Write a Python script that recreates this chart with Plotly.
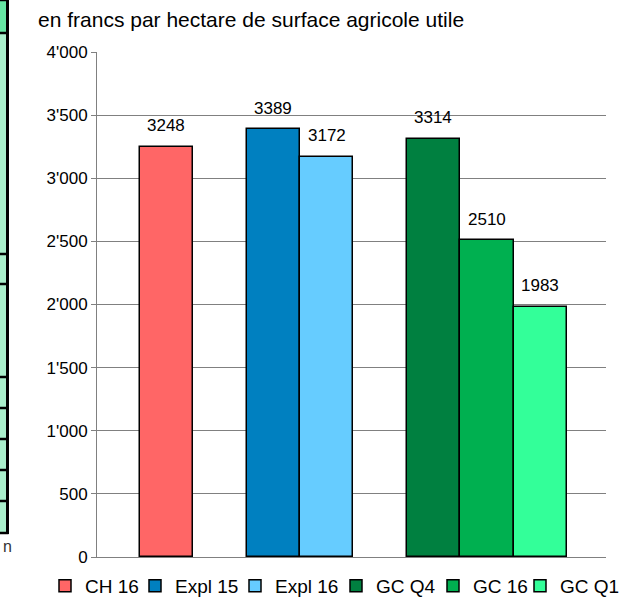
import plotly.graph_objects as go

# ---- data -------------------------------------------------------------
series = ["CH 16", "Expl 15", "Expl 16", "GC Q4", "GC 16", "GC Q1"]
values = [3248, 3389, 3172, 3314, 2510, 1983]
group_of = [0, 1, 1, 2, 2, 2]          # which cluster each series belongs to
colors = ["#FF6666", "#0080C0", "#66CCFF", "#008040", "#00B050", "#33FF99"]
y_ticks = [0, 500, 1000, 1500, 2000, 2500, 3000, 3500, 4000]
title_text = "en francs par hectare de surface agricole utile"

# ---- layout constants -------------------------------------------------
W, H = 622, 599
M_L, M_R, M_T, M_B = 97, 16, 52, 42
PLOT_W = W - M_L - M_R
PLOT_H = H - M_T - M_B
FONT = "Arial, Liberation Sans, sans-serif"
# text width reserved for each legend entry (None = natural width)
LEGEND_ENTRY_PX = [45, 55, 56, 52, 42, None]


def px_x(px):
    """pixel column -> paper x"""
    return (px - M_L) / PLOT_W


def px_y(py):
    """pixel row -> paper y"""
    return (H - M_B - py) / PLOT_H


# slot index for each bar: bars of one cluster touch, one empty slot between clusters
positions = []
slot, prev = 0, None
for g in group_of:
    if prev is not None:
        slot += 1 if g == prev else 2
    positions.append(slot)
    prev = g

fig = go.Figure()
for name, val, pos, col, lw in zip(series, values, positions, colors, LEGEND_ENTRY_PX):
    fig.add_trace(go.Bar(
        x=[pos], y=[val], name=name, width=1,
        marker=dict(color=col, line=dict(color="black", width=1.5)),
        hoverinfo="name+y", legendwidth=lw,
    ))
    fig.add_annotation(
        x=pos, y=val, text=str(val), showarrow=False,
        yshift=21, yanchor="middle",
        font=dict(family=FONT, size=17, color="black"),
    )

# title line
fig.add_annotation(
    xref="paper", yref="paper", x=px_x(36), y=px_y(20),
    xanchor="left", yanchor="middle", showarrow=False,
    text=title_text, font=dict(family=FONT, size=21, color="black"),
)

# neighbouring table edge at the left border
cell_edges = [0, 33, 254, 284, 377, 408, 439, 470, 501, 533]
shapes = []
for i in range(len(cell_edges) - 1):
    shapes.append(dict(
        type="rect", xref="paper", yref="paper", layer="above",
        x0=px_x(-2), x1=px_x(7), y0=px_y(cell_edges[i]), y1=px_y(cell_edges[i + 1]),
        fillcolor="#66E6A3" if i == 0 else "#A9EFCB", line=dict(width=0),
    ))
for e in cell_edges:
    shapes.append(dict(
        type="line", xref="paper", yref="paper", layer="above",
        x0=px_x(-2), x1=px_x(8.5), y0=px_y(e), y1=px_y(e),
        line=dict(color="black", width=2.5),
    ))
shapes.append(dict(
    type="line", xref="paper", yref="paper", layer="above",
    x0=px_x(7.5), x1=px_x(7.5), y0=px_y(-1), y1=px_y(534),
    line=dict(color="black", width=3),
))
fig.add_annotation(
    xref="paper", yref="paper", x=px_x(1), y=px_y(546),
    xanchor="left", yanchor="middle", showarrow=False,
    text="n", font=dict(family=FONT, size=16, color="#333333"),
)

fig.update_layout(
    width=W, height=H,
    margin=dict(l=M_L, r=M_R, t=M_T, b=M_B, autoexpand=False),
    paper_bgcolor="white", plot_bgcolor="white",
    separators=".'",
    font=dict(family=FONT, size=17, color="black"),
    bargap=0, showlegend=True, shapes=shapes,
    legend=dict(
        orientation="h", x=px_x(45), xanchor="left",
        y=px_y(586), yanchor="middle",
        font=dict(family=FONT, size=19, color="black"),
        bgcolor="rgba(0,0,0,0)", itemclick=False,
    ),
    xaxis=dict(
        range=[positions[0] - 1.3, positions[-1] + 1.23],
        showticklabels=False, showgrid=False, zeroline=False,
        showline=True, linecolor="#808080", linewidth=1, fixedrange=True,
    ),
    yaxis=dict(
        range=[0, 4000], tickvals=y_ticks, tickformat=",d",
        showgrid=True, gridcolor="#808080", gridwidth=1, zeroline=False,
        showline=True, linecolor="#808080", linewidth=1,
        ticks="outside", ticklen=5, tickcolor="#808080",
        tickfont=dict(family=FONT, size=17, color="black"),
        fixedrange=True,
    ),
)

fig.write_html("out.html")
